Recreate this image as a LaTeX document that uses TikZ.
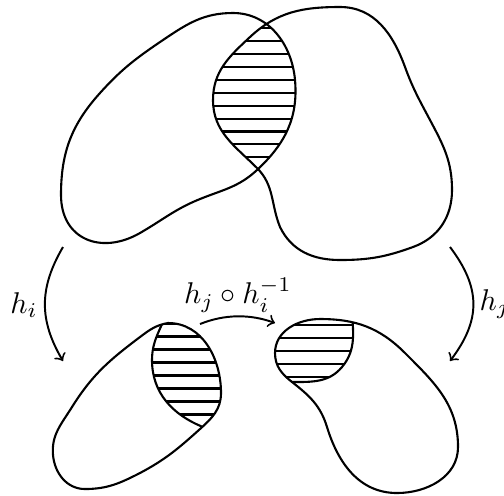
\documentclass[tikz,border=0pt]{standalone}
\usepackage{amsmath,amssymb}
\tikzset{
  blob/.style={line width=0.7pt, line join=round},
  hatch/.style={line width=0.7pt},
  chart/.style={->, line width=0.65pt},
  lbl/.style={inner sep=1pt},
}

\begin{document}
\begin{tikzpicture}[x=0.3333pt, y=0.3333pt]
  \useasboundingbox (0,0) rectangle (504,495);

  % ---------------------------------------------------------- the two overlapping sets
  \def\leftset{(61,300) to[out=90,in=228] (100,402) to[out=48,in=214] (163,455)
    to[out=34,in=180] (233,482) to[out=0,in=95] (295,415)
    to[out=-85,in=43] (257,325) to[out=-137,in=22] (200,296)
    to[out=-158,in=30] (140,262) to[out=-150,in=-90,looseness=1.3] cycle}
  \def\rightset{(340,488) to[out=0,in=110] (405,428) to[out=-70,in=118] (430,375)
    to[out=-62,in=90] (452,305) to[out=-90,in=20] (413,248)
    to[out=-160,in=0] (340,235) to[out=180,in=-64] (280,268)
    to[out=112,in=-45] (257,327) to[out=135,in=-90] (213,395)
    to[out=90,in=-137] (250,458) to[out=43,in=180] cycle}

  \begin{scope}
    \clip \leftset;
    \clip \rightset;
    \foreach \y in {466.7,453.8,...,330}
      \draw[hatch] (180,\y) -- (320,\y);
  \end{scope}
  \draw[blob] \leftset;
  \draw[blob] \rightset;

  % ---------------------------------------------------------- the two images
  \def\imgi{(168,172) to[out=190,in=37] (140,158) to[out=217,in=58] (72,88)
    to[out=238,in=95] (53,40) to[out=-85,in=180] (85,6)
    to[out=0,in=207] (140,22) to[out=28,in=222] (200,66)
    to[out=42,in=-90] (221,102) to[out=90,in=0] cycle}
  \def\imgj{(320,176) to[out=180,in=90] (275,142) to[out=-90,in=142] (292,113)
    to[out=-38,in=107] (327,68) to[out=-73,in=180] (397,2)
    to[out=0,in=-90] (458,48) to[out=90,in=-45] (405,142)
    to[out=135,in=0] cycle}

  \begin{scope}
    \clip \imgi;
    \begin{scope}
      \clip (168,186) to[out=-108,in=90] (152,135) to[out=-90,in=158] (203,68)
        -- ++(-22:20) -- (240,200) -- cycle;
      \foreach \y in {171.5,158.5,...,60}
        \draw[hatch] (140,\y) -- (240,\y);
    \end{scope}
    \draw[blob] (168,186) to[out=-108,in=90] (152,135) to[out=-90,in=158] (203,68)
      -- ++(-22:20);
  \end{scope}
  \draw[blob] \imgi;

  \begin{scope}
    \clip \imgj;
    \begin{scope}
      \clip (352,186) to[out=-88,in=50] (342,128) to[out=-130,in=0] (292,113)
        -- ++(180:25) -- (260,200) -- cycle;
      \foreach \y in {170,157.1,...,100}
        \draw[hatch] (260,\y) -- (370,\y);
    \end{scope}
    \draw[blob] (352,186) to[out=-88,in=50] (342,128) to[out=-130,in=0] (292,113)
      -- ++(180:25);
  \end{scope}
  \draw[blob] \imgj;

  % ---------------------------------------------------------- the maps
  \coordinate (hiS) at (63,248);
  \coordinate (hiE) at (63,134);
  \coordinate (hjS) at (450,248);
  \coordinate (hjE) at (450,134);
  \coordinate (trS) at (200,171);
  \coordinate (trE) at (275,172);

  \draw[chart] (hiS) .. controls (39,207) and (39,175) .. (hiE);
  \draw[chart] (hjS) .. controls (481,207) and (481,175) .. (hjE);
  \draw[chart] (trS) .. controls (225,181) and (250,181) .. (trE);

  \node[lbl] (hi) at (24,190) {$h_i$};
  \node[lbl, anchor=west] (hj) at (476,191) {$h_j$};
  \node[lbl] (tr) at (238,200) {$h_j\circ h_i^{-1}$};
\end{tikzpicture}
\end{document}
